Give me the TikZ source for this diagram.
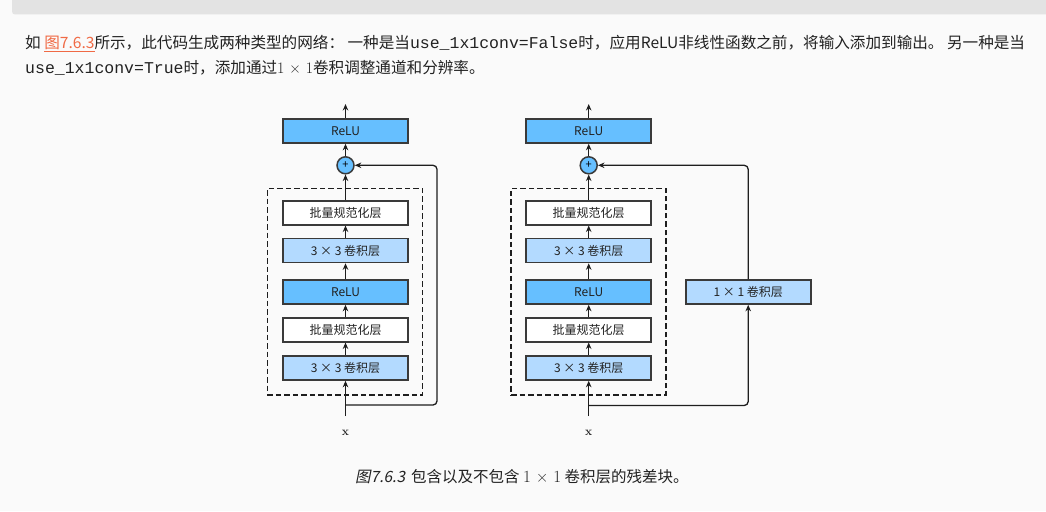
\documentclass[tikz,border=0pt]{standalone}
\usepackage{fontspec}
\usetikzlibrary{arrows.meta}
\newfontfamily\cjk{Noto Sans CJK SC}
\newfontfamily\cjkit[FakeSlant=0.2]{Noto Sans CJK SC}
\newfontfamily\mono{Liberation Mono}
\newfontfamily\lmr{Latin Modern Roman}
\definecolor{bgc}{HTML}{FAFAFA}
\definecolor{codebg}{HTML}{E3E3E3}
\definecolor{reluc}{HTML}{66BFFF}
\definecolor{convc}{HTML}{B3DAFF}
\definecolor{bordc}{HTML}{3A3A3A}
\definecolor{arrc}{HTML}{1E1E1E}
\definecolor{txtc}{HTML}{222222}
\definecolor{linkc}{HTML}{F06A45}
\begin{document}
\begin{tikzpicture}[x=1pt,y=-1pt,
  box/.style={draw=bordc, line width=1.6pt, minimum width=125pt, minimum height=24pt,
    inner sep=0pt, text=txtc, font=\cjk\fontsize{12}{12}\selectfont},
  relubox/.style={box, fill=reluc},
  convbox/.style={box, fill=convc},
  bnbox/.style={box, fill=white},
  plusnode/.style={circle, draw=bordc, fill=reluc, line width=1.5pt, minimum size=17pt,
    inner sep=0pt, font=\cjk\fontsize{11}{11}\selectfont},
  dashbox/.style={draw=arrc, dash pattern=on 5.5pt off 3pt, line width=1.5pt, inner sep=0pt},
  arr/.style={-{Stealth[length=6.5pt,width=5.5pt]}, line width=1.3pt, draw=arrc},
  para/.style={anchor=west, inner sep=0pt, text=txtc, font=\cjk\fontsize{15.6}{18}\selectfont},
  xlab/.style={inner sep=0pt, text=txtc, font=\lmr\bfseries\fontsize{12}{12}\selectfont}
]
\fill[bgc] (0,0) rectangle (1046,511);
\useasboundingbox (0,0) rectangle (1046,511);
\fill[codebg, rounded corners=3pt] (12,-6) rectangle (1052,14.5);

% paragraph
\node[para] (p1) at (25,43.5) {如 {\color{linkc}\underline{图7.6.3}}所示，此代码生成两种类型的网络： 一种是当{\mono\fontsize{16.5}{18}\selectfont use\_1x1conv=False}时，应用ReLU非线性函数之前，将输入添加到输出。 另一种是当};
\node[para] (p2) at (25,67.5) {{\mono\fontsize{16.5}{18}\selectfont use\_1x1conv=True}时，添加通过{\lmr\fontsize{16}{18}\selectfont 1 × 1}卷积调整通道和分辨率。};

% left block
\node[relubox] (L1) at (345.5,131) {ReLU};
\node[plusnode] (Lp) at (345.5,165.3) {+};
\node[bnbox] (L2) at (345.5,212.7) {批量规范化层};
\node[convbox] (L3) at (345.5,250.5) {3 × 3 卷积层};
\node[relubox] (L4) at (345.5,292) {ReLU};
\node[bnbox] (L5) at (345.5,329.7) {批量规范化层};
\node[convbox] (L6) at (345.5,368) {3 × 3 卷积层};
\node[dashbox, minimum width=155pt, minimum height=206.7pt] (Ld) at (344.8,291.7) {};
\node[xlab] (Lx) at (345.5,432.5) {x};
\coordinate (Lout) at (345.5,104);
\coordinate (Lin) at (345.5,416);
\coordinate (Lsplit) at (345.5,405);
\coordinate (Lc) at (437,165.3);
\draw[arr] (L1.north) -- (Lout);
\draw[arr] (Lp.north) -- (L1.south);
\draw[arr] (L2.north) -- (Lp.south);
\draw[arr] (L3.north) -- (L2.south);
\draw[arr] (L4.north) -- (L3.south);
\draw[arr] (L5.north) -- (L4.south);
\draw[arr] (L6.north) -- (L5.south);
\draw[arr] (Lin) -- (L6.south);
\draw[arr, rounded corners=4pt] (Lsplit) -| (Lc) -- (Lp.east);

% right block
\node[relubox] (R1) at (588.7,131) {ReLU};
\node[plusnode] (Rp) at (588.7,165.3) {+};
\node[bnbox] (R2) at (588.7,212.7) {批量规范化层};
\node[convbox] (R3) at (588.7,250.5) {3 × 3 卷积层};
\node[relubox] (R4) at (588.7,292) {ReLU};
\node[bnbox] (R5) at (588.7,329.7) {批量规范化层};
\node[convbox] (R6) at (588.7,368) {3 × 3 卷积层};
\node[convbox] (R7) at (748.2,292) {1 × 1 卷积层};
\node[dashbox, minimum width=154.7pt, minimum height=206.7pt] (Rd) at (588.4,291.7) {};
\node[xlab] (Rx) at (588.7,432.5) {x};
\coordinate (Rout) at (588.7,104);
\coordinate (Rin) at (588.7,416);
\coordinate (Rsplit) at (588.7,405.5);
\draw[arr] (R1.north) -- (Rout);
\draw[arr] (Rp.north) -- (R1.south);
\draw[arr] (R2.north) -- (Rp.south);
\draw[arr] (R3.north) -- (R2.south);
\draw[arr] (R4.north) -- (R3.south);
\draw[arr] (R5.north) -- (R4.south);
\draw[arr] (R6.north) -- (R5.south);
\draw[arr] (Rin) -- (R6.south);
\draw[arr, rounded corners=4pt] (Rsplit) -| (R7.south);
\draw[arr, rounded corners=4pt] (R7.north) |- (Rp.east);

% caption
\node[anchor=west, inner sep=0pt, text=txtc, font=\cjk\fontsize{15.5}{18}\selectfont] (cap) at (355,476.5)
  {{\cjkit 图7.6.3}\hspace{6pt}包含以及不包含 {\lmr\fontsize{17}{18}\selectfont 1 × 1} 卷积层的残差块。};
\end{tikzpicture}
\end{document}
